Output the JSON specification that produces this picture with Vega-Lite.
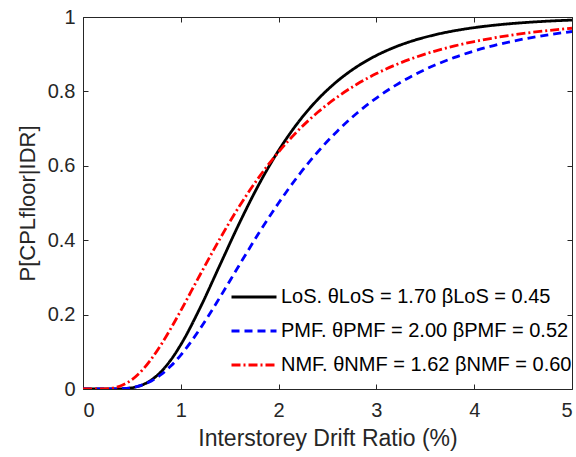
{
  "$schema": "https://vega.github.io/schema/vega-lite/v6.json",
  "width": 489,
  "height": 372,
  "autosize": {"type": "none"},
  "padding": {"left": 83, "top": 17, "right": 4, "bottom": 68},
  "background": "white",
  "config": {
    "view": {"stroke": "#262626", "strokeWidth": 1},
    "font": "Liberation Sans",
    "axis": {
      "grid": false,
      "domain": false,
      "tickColor": "#262626",
      "labelColor": "#262626",
      "titleColor": "#262626",
      "labelFont": "Liberation Sans",
      "titleFont": "Liberation Sans",
      "labelFontSize": 20,
      "titleFontSize": 23,
      "titleFontWeight": "normal",
      "tickSize": 5,
      "offset": -5
    }
  },
  "data": {"values": [
    {"x":0,"y":0,"s":"LoS"},{"x":0.2,"y":0,"s":"LoS"},{"x":0.3,"y":0.00006,"s":"LoS"},{"x":0.4,"y":0.00065,"s":"LoS"},{"x":0.5,"y":0.0033,"s":"LoS"},{"x":0.6,"y":0.0103,"s":"LoS"},{"x":0.7,"y":0.0243,"s":"LoS"},{"x":0.8,"y":0.047,"s":"LoS"},{"x":0.9,"y":0.0788,"s":"LoS"},{"x":1.0,"y":0.1192,"s":"LoS"},{"x":1.2,"y":0.2195,"s":"LoS"},{"x":1.4,"y":0.3332,"s":"LoS"},{"x":1.6,"y":0.4464,"s":"LoS"},{"x":1.8,"y":0.5506,"s":"LoS"},{"x":2.0,"y":0.641,"s":"LoS"},{"x":2.2,"y":0.7167,"s":"LoS"},{"x":2.4,"y":0.7783,"s":"LoS"},{"x":2.6,"y":0.8275,"s":"LoS"},{"x":2.8,"y":0.8663,"s":"LoS"},{"x":3.0,"y":0.8966,"s":"LoS"},{"x":3.2,"y":0.9201,"s":"LoS"},{"x":3.4,"y":0.9383,"s":"LoS"},{"x":3.6,"y":0.9523,"s":"LoS"},{"x":3.8,"y":0.9631,"s":"LoS"},{"x":4.0,"y":0.9714,"s":"LoS"},{"x":4.2,"y":0.9778,"s":"LoS"},{"x":4.4,"y":0.9827,"s":"LoS"},{"x":4.6,"y":0.9865,"s":"LoS"},{"x":4.8,"y":0.9895,"s":"LoS"},{"x":5.0,"y":0.9917,"s":"LoS"},
    {"x":0,"y":0,"s":"PMF"},{"x":0.2,"y":0,"s":"PMF"},{"x":0.3,"y":0.00013,"s":"PMF"},{"x":0.4,"y":0.001,"s":"PMF"},{"x":0.5,"y":0.0038,"s":"PMF"},{"x":0.6,"y":0.0103,"s":"PMF"},{"x":0.7,"y":0.0217,"s":"PMF"},{"x":0.8,"y":0.039,"s":"PMF"},{"x":0.9,"y":0.0623,"s":"PMF"},{"x":1.0,"y":0.0913,"s":"PMF"},{"x":1.2,"y":0.163,"s":"PMF"},{"x":1.4,"y":0.2464,"s":"PMF"},{"x":1.6,"y":0.334,"s":"PMF"},{"x":1.8,"y":0.4198,"s":"PMF"},{"x":2.0,"y":0.5,"s":"PMF"},{"x":2.2,"y":0.5728,"s":"PMF"},{"x":2.4,"y":0.6371,"s":"PMF"},{"x":2.6,"y":0.6931,"s":"PMF"},{"x":2.8,"y":0.7412,"s":"PMF"},{"x":3.0,"y":0.7822,"s":"PMF"},{"x":3.2,"y":0.817,"s":"PMF"},{"x":3.4,"y":0.8463,"s":"PMF"},{"x":3.6,"y":0.8708,"s":"PMF"},{"x":3.8,"y":0.8915,"s":"PMF"},{"x":4.0,"y":0.9087,"s":"PMF"},{"x":4.2,"y":0.9232,"s":"PMF"},{"x":4.4,"y":0.9353,"s":"PMF"},{"x":4.6,"y":0.9454,"s":"PMF"},{"x":4.8,"y":0.9539,"s":"PMF"},{"x":5.0,"y":0.961,"s":"PMF"},
    {"x":0,"y":0,"s":"NMF"},{"x":0.2,"y":0.00025,"s":"NMF"},{"x":0.3,"y":0.0025,"s":"NMF"},{"x":0.4,"y":0.0099,"s":"NMF"},{"x":0.5,"y":0.0251,"s":"NMF"},{"x":0.6,"y":0.0489,"s":"NMF"},{"x":0.7,"y":0.081,"s":"NMF"},{"x":0.8,"y":0.1198,"s":"NMF"},{"x":0.9,"y":0.1636,"s":"NMF"},{"x":1.0,"y":0.2107,"s":"NMF"},{"x":1.2,"y":0.3085,"s":"NMF"},{"x":1.4,"y":0.4039,"s":"NMF"},{"x":1.6,"y":0.4918,"s":"NMF"},{"x":1.8,"y":0.5697,"s":"NMF"},{"x":2.0,"y":0.6373,"s":"NMF"},{"x":2.2,"y":0.695,"s":"NMF"},{"x":2.4,"y":0.7438,"s":"NMF"},{"x":2.6,"y":0.7848,"s":"NMF"},{"x":2.8,"y":0.8191,"s":"NMF"},{"x":3.0,"y":0.8478,"s":"NMF"},{"x":3.2,"y":0.8717,"s":"NMF"},{"x":3.4,"y":0.8917,"s":"NMF"},{"x":3.6,"y":0.9084,"s":"NMF"},{"x":3.8,"y":0.9223,"s":"NMF"},{"x":4.0,"y":0.934,"s":"NMF"},{"x":4.2,"y":0.9438,"s":"NMF"},{"x":4.4,"y":0.9521,"s":"NMF"},{"x":4.6,"y":0.959,"s":"NMF"},{"x":4.8,"y":0.9649,"s":"NMF"},{"x":5.0,"y":0.9698,"s":"NMF"}
  ]},
  "layer": [
    {
      "mark": {"type": "line", "strokeWidth": 2.8, "interpolate": "monotone", "clip": true},
      "encoding": {
        "x": {"field": "x", "type": "quantitative", "scale": {"domain": [0, 5], "nice": false},
              "axis": {"title": "Interstorey Drift Ratio (%)", "values": [0,1,2,3,4,5], "labelPadding": 11, "titlePadding": 7}},
        "y": {"field": "y", "type": "quantitative", "scale": {"domain": [0, 1], "nice": false},
              "axis": {"title": "P[CPLfloor|IDR]", "titleFontSize": 22, "values": [0,0.2,0.4,0.6,0.8,1], "format": "~g", "labelPadding": 8, "titlePadding": 8}},
        "color": {"field": "s", "type": "nominal",
                  "scale": {"domain": ["LoS","PMF","NMF"], "range": ["#000000","#0000FF","#FF0000"]},
                  "legend": {
                    "title": null, "orient": "none", "legendX": 147, "legendY": 256,
                    "symbolType": "stroke", "symbolSize": 2025, "symbolStrokeWidth": 3,
                    "labelFontSize": 20, "labelFont": "Liberation Sans", "labelColor": "#000000",
                    "labelLimit": 400, "rowPadding": -11, "labelOffset": 3,
                    "labelExpr": "datum.label == 'LoS' ? 'LoS. θLoS = 1.70 βLoS = 0.45' : datum.label == 'PMF' ? 'PMF. θPMF = 2.00 βPMF = 0.52' : 'NMF. θNMF = 1.62 βNMF = 0.60'"
                  }},
        "strokeDash": {"field": "s", "type": "nominal",
                       "scale": {"domain": ["LoS","PMF","NMF"], "range": [[1,0],[8,5],[9,3,2,3]]},
                       "legend": {
                    "title": null, "orient": "none", "legendX": 147, "legendY": 256,
                    "symbolType": "stroke", "symbolSize": 2025, "symbolStrokeWidth": 3,
                    "labelFontSize": 20, "labelFont": "Liberation Sans", "labelColor": "#000000",
                    "labelLimit": 400, "rowPadding": -11, "labelOffset": 3,
                    "labelExpr": "datum.label == 'LoS' ? 'LoS. θLoS = 1.70 βLoS = 0.45' : datum.label == 'PMF' ? 'PMF. θPMF = 2.00 βPMF = 0.52' : 'NMF. θNMF = 1.62 βNMF = 0.60'"
                  }}
      }
    },
    {
      "mark": {"type": "line", "opacity": 0},
      "encoding": {
        "x": {"field": "x", "type": "quantitative",
              "axis": {"orient": "top", "values": [0,1,2,3,4,5], "labels": false, "title": null}},
        "y": {"field": "y", "type": "quantitative",
              "axis": {"orient": "right", "values": [0,0.2,0.4,0.6,0.8,1], "labels": false, "title": null}},
        "detail": {"field": "s", "type": "nominal"}
      }
    }
  ],
  "resolve": {"axis": {"x": "independent", "y": "independent"}}
}
